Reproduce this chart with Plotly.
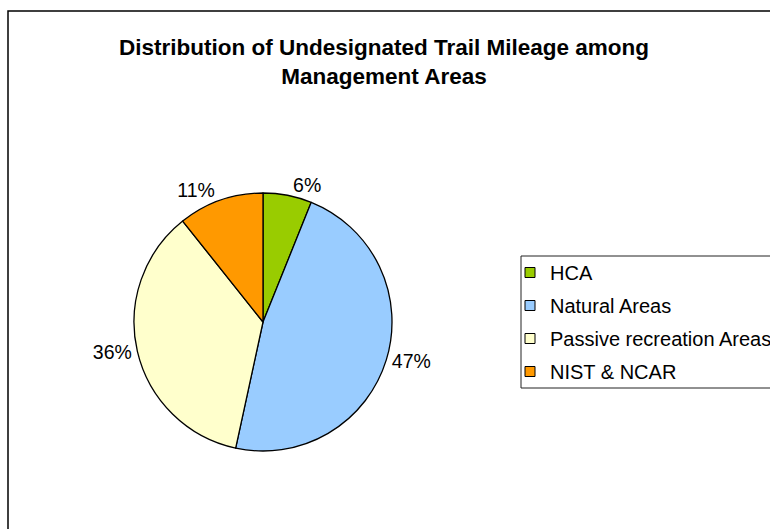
import plotly.graph_objects as go

categories = ["HCA", "Natural Areas", "Passive recreation Areas", "NIST & NCAR"]
shares = [6.1, 47.3, 35.9, 10.7]
colors = ["#99CC00", "#99CCFF", "#FFFFCC", "#FF9900"]

W, H = 770, 529
FONT = "Liberation Sans, Arial, sans-serif"

fig = go.Figure()
fig.add_trace(go.Pie(
    labels=categories,
    values=shares,
    sort=False,
    direction="clockwise",
    rotation=0,
    marker=dict(colors=colors, line=dict(color="black", width=1.3)),
    textinfo="percent",
    texttemplate="%{percent:.0%}",
    textposition="outside",
    outsidetextfont=dict(family=FONT, size=19.5, color="black"),
    hoverinfo="label+percent",
    domain=dict(x=[134 / W, 392 / W], y=[(H - 451) / H, (H - 193) / H]),
    showlegend=False,
))

# legend entries (one per category, so that the spacing can be set)
for name, col in zip(categories, colors):
    fig.add_trace(go.Scatter(
        x=[None], y=[None], mode="markers", name=name,
        legendgroup=name,
        marker=dict(symbol="square", size=10, color=col,
                    line=dict(color="black", width=1)),
        hoverinfo="skip",
    ))

fig.update_layout(
    width=W, height=H,
    margin=dict(l=0, r=0, t=0, b=0, autoexpand=False),
    paper_bgcolor="white",
    plot_bgcolor="white",
    font=dict(family=FONT, color="black"),
    xaxis=dict(visible=False, domain=[0, 1]),
    yaxis=dict(visible=False, domain=[0, 1]),
    title=dict(
        text="<b>Distribution of Undesignated Trail Mileage among<br>Management Areas</b>",
        x=384 / W, xanchor="center",
        y=1 - 55 / H, yanchor="top",
        font=dict(family=FONT, size=22.5, color="black"),
    ),
    legend=dict(
        x=510 / W, xanchor="left",
        y=(H - 253) / H, yanchor="top",
        borderwidth=0,
        bgcolor="rgba(0,0,0,0)",
        font=dict(family=FONT, size=20, color="black"),
        traceorder="grouped",
        tracegroupgap=4,
    ),
    shapes=[
        dict(type="rect", xref="paper", yref="paper",
             x0=8 / W, x1=1.05, y0=-0.05, y1=(H - 11) / H,
             line=dict(color="black", width=1.5),
             fillcolor="rgba(0,0,0,0)", layer="below"),
        dict(type="rect", xref="paper", yref="paper",
             x0=521 / W, x1=1.05, y0=(H - 388) / H, y1=(H - 256) / H,
             line=dict(color="#222222", width=1),
             fillcolor="rgba(0,0,0,0)", layer="below"),
    ],
)

fig.write_html(
    "out.html",
    config={"displayModeBar": False},
    post_script="document.body.style.margin='0';document.body.style.overflow='hidden';",
)
